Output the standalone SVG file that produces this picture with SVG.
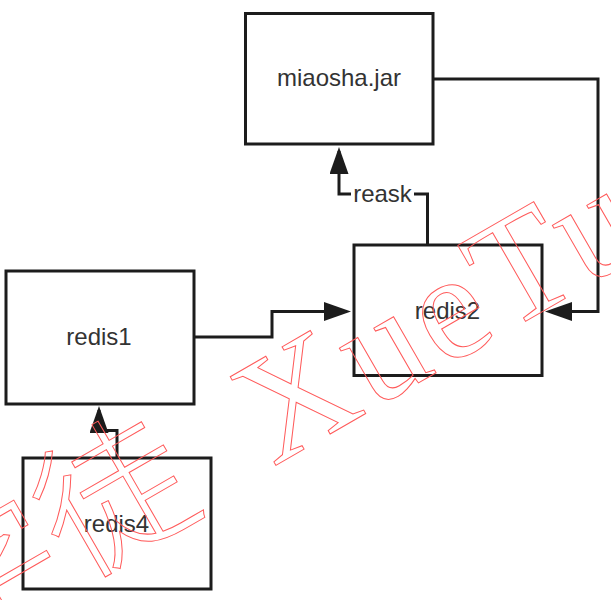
<svg xmlns="http://www.w3.org/2000/svg" width="611" height="600" viewBox="0 0 611 600">
  <style>
    .box { fill: none; stroke: #1c1c1c; stroke-width: 3; }
    .label { font-family: "Liberation Sans", Arial, sans-serif; font-size: 24px; fill: #333; text-anchor: middle; }
    .edge { fill: none; stroke: #1c1c1c; stroke-width: 3; stroke-linejoin: miter; marker-end: url(#arrow); }
    .wm { fill: none; stroke: #ff5a5a; stroke-width: 1; }
  </style>
  <defs>
    <marker id="arrow" markerUnits="userSpaceOnUse" markerWidth="28" markerHeight="20" refX="23" refY="9.5" orient="auto">
      <path d="M0,0 L27,9.5 L0,19 z" fill="#1c1c1c"/>
    </marker>
  </defs>

  <rect width="611" height="600" fill="#ffffff"/>

  <!-- connectors -->
  <g id="connectors">
    <path class="edge" d="M194,337 H272 V311.5 H347"/>
    <path class="edge" d="M433,79 H598 V311.5 H549"/>
    <path class="edge" d="M427.5,245 V194 H339 V151"/>
    <path class="edge" d="M117,458 V430.5 H99 V410"/>
    <rect x="351" y="182" width="63" height="24" fill="#ffffff"/>
    <text class="label" x="382.5" y="202">reask</text>
  </g>

  <!-- nodes -->
  <g id="miaosha">
    <rect class="box" x="245.5" y="13.5" width="187.5" height="130.5"/>
    <text class="label" x="339" y="86">miaosha.jar</text>
  </g>
  <g id="redis1">
    <rect class="box" x="6" y="271" width="188" height="133"/>
    <text class="label" x="99" y="345">redis1</text>
  </g>
  <g id="redis2">
    <rect class="box" x="354" y="245" width="188" height="130.5"/>
    <text class="label" x="447.5" y="319">redis2</text>
  </g>
  <g id="redis4">
    <rect class="box" x="23" y="458" width="188" height="131"/>
    <text class="label" x="116.5" y="532">redis4</text>
  </g>

  <!-- watermark -->
  <g transform="translate(273,467) rotate(-30)">
    <text class="wm" x="0" y="0" font-family="'Liberation Serif', 'Times New Roman', serif" font-size="152" letter-spacing="5">XueTu</text>
    <text class="wm" x="-381" y="0" font-family="'Noto Sans CJK SC', sans-serif" font-size="152" font-weight="300">学徒</text>
  </g>
</svg>
